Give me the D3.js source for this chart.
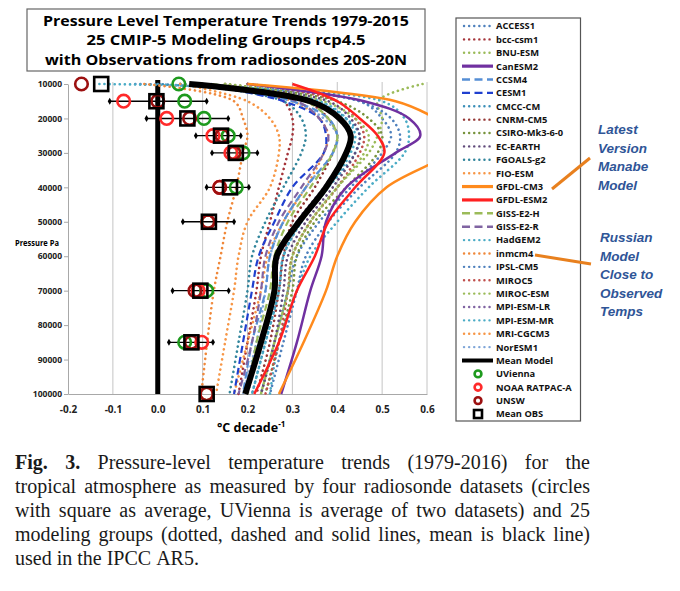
<!DOCTYPE html>
<html>
<head>
<meta charset="utf-8">
<script src="https://cdn.jsdelivr.net/npm/d3@7"></script>
<style>
    body { margin: 0; background: #fff; }
    svg { display: block; }
</style>
</head>
<body>
<script>
    // pressure levels (Pa) used by the model curves
    const levels = [10000, 15000, 20000, 25000, 30000, 40000, 50000, 60000, 70000, 85000, 100000];

    const modelNames = ["ACCESS1", "bcc-csm1", "BNU-ESM", "CanESM2", "CCSM4", "CESM1", "CMCC-CM", "CNRM-CM5",
        "CSIRO-Mk3-6-0", "EC-EARTH", "FGOALS-g2", "FIO-ESM", "GFDL-CM3", "GFDL-ESM2", "GISS-E2-H", "GISS-E2-R",
        "HadGEM2", "inmcm4", "IPSL-CM5", "MIROC5", "MIROC-ESM", "MPI-ESM-LR", "MPI-ESM-MR", "MRI-CGCM3", "NorESM1"];

    const modelColors = ["#4f81bd", "#a5343a", "#9bbb59", "#7030a0", "#558ed5", "#1f3fcf", "#3c8fb8", "#953735",
        "#77933c", "#604a7b", "#31859c", "#f79646", "#ff8a1c", "#ff2020", "#9bbb59", "#8064a2",
        "#4bacc6", "#f0883a", "#4f81bd", "#c0504d", "#9bbb59", "#8064a2", "#4bacc6", "#f79646", "#7fa6d8"];

    const modelStyles = ["dot", "dot", "dot", "solid", "dash", "dash", "dot", "dot",
        "dot", "dot", "dot", "dot", "solid", "solid", "dash", "dash",
        "dot", "dot", "dot", "dot", "dot", "dot", "dot", "dot", "dot"];

    // trend (°C/decade) per model at each level
    const modelTrends = [
        [-0.05, 0.45, 0.50, 0.52, 0.50, 0.43, 0.36, 0.31, 0.29, 0.26, 0.23],   // ACCESS1
        [0.15, 0.28, 0.30, 0.30, 0.29, 0.27, 0.25, 0.23, 0.22, 0.20, 0.18],    // bcc-csm1
        [0.59, 0.49, 0.50, 0.49, 0.47, 0.40, 0.34, 0.30, 0.29, 0.26, 0.23],    // BNU-ESM
        [0.20, 0.46, 0.56, 0.585, 0.53, 0.42, 0.375, 0.365, 0.34, 0.31, 0.275], // CanESM2
        [0.08, 0.30, 0.38, 0.40, 0.39, 0.33, 0.28, 0.25, 0.24, 0.21, 0.19],    // CCSM4
        [0.10, 0.28, 0.36, 0.375, 0.37, 0.30, 0.26, 0.225, 0.21, 0.19, 0.17],  // CESM1
        [0.00, 0.35, 0.42, 0.45, 0.44, 0.38, 0.32, 0.28, 0.27, 0.24, 0.21],    // CMCC-CM
        [0.10, 0.33, 0.38, 0.40, 0.39, 0.35, 0.30, 0.28, 0.27, 0.25, 0.22],    // CNRM-CM5
        [0.15, 0.40, 0.47, 0.50, 0.49, 0.42, 0.35, 0.31, 0.30, 0.27, 0.24],    // CSIRO-Mk3-6-0
        [0.10, 0.38, 0.43, 0.45, 0.44, 0.39, 0.33, 0.29, 0.28, 0.26, 0.23],    // EC-EARTH
        [0.05, 0.28, 0.32, 0.33, 0.32, 0.28, 0.24, 0.21, 0.20, 0.18, 0.16],    // FGOALS-g2
        [0.10, 0.30, 0.36, 0.38, 0.37, 0.33, 0.28, 0.245, 0.23, 0.20, 0.17],   // FIO-ESM
        [0.20, 0.53, 0.62, 0.68, 0.65, 0.51, 0.44, 0.40, 0.375, 0.325, 0.27],  // GFDL-CM3
        [0.30, 0.40, 0.45, 0.49, 0.505, 0.44, 0.38, 0.35, 0.31, 0.27, 0.215],  // GFDL-ESM2
        [0.12, 0.33, 0.38, 0.40, 0.39, 0.34, 0.29, 0.26, 0.25, 0.22, 0.20],    // GISS-E2-H
        [0.10, 0.31, 0.36, 0.38, 0.37, 0.32, 0.27, 0.24, 0.23, 0.21, 0.18],    // GISS-E2-R
        [-0.13, 0.50, 0.55, 0.56, 0.55, 0.47, 0.40, 0.34, 0.31, 0.27, 0.25],   // HadGEM2
        [-0.03, 0.17, 0.19, 0.20, 0.19, 0.175, 0.155, 0.14, 0.125, 0.11, 0.097], // inmcm4
        [0.20, 0.45, 0.52, 0.54, 0.53, 0.45, 0.38, 0.33, 0.31, 0.28, 0.25],    // IPSL-CM5
        [0.20, 0.40, 0.44, 0.46, 0.45, 0.40, 0.34, 0.30, 0.29, 0.27, 0.24],    // MIROC5
        [0.15, 0.37, 0.44, 0.47, 0.46, 0.40, 0.34, 0.30, 0.29, 0.26, 0.23],    // MIROC-ESM
        [0.05, 0.35, 0.41, 0.43, 0.42, 0.37, 0.31, 0.27, 0.26, 0.23, 0.20],    // MPI-ESM-LR
        [0.05, 0.36, 0.42, 0.44, 0.43, 0.38, 0.32, 0.28, 0.27, 0.24, 0.21],    // MPI-ESM-MR
        [0.05, 0.20, 0.25, 0.27, 0.27, 0.25, 0.20, 0.18, 0.17, 0.15, 0.13],    // MRI-CGCM3
        [0.12, 0.30, 0.37, 0.40, 0.39, 0.33, 0.28, 0.25, 0.24, 0.22, 0.19]     // NorESM1
    ];

    const meanModel = [0.07, 0.34, 0.405, 0.43, 0.42, 0.375, 0.315, 0.265, 0.26, 0.23, 0.195];

    // radiosonde observations
    const obsLevels = [10000, 15000, 20000, 25000, 30000, 40000, 50000, 70000, 85000, 100000];
    const uVienna = [0.047, 0.06, 0.103, 0.157, 0.19, 0.175, 0.112, 0.109, 0.06, 0.109];
    const noaaRatpac = [null, -0.076, 0.02, 0.123, 0.163, 0.138, 0.112, 0.09, 0.098, 0.109];
    const unsw = [-0.17, 0.0, 0.071, 0.143, 0.17, 0.138, 0.112, 0.083, 0.075, 0.109];
    const meanObs = [-0.126, -0.003, 0.066, 0.141, 0.174, 0.161, 0.114, 0.095, 0.075, 0.109];
    const errLow = [null, -0.107, -0.025, 0.085, 0.121, 0.109, 0.056, 0.033, 0.025, null];
    const errHigh = [null, 0.109, 0.157, 0.185, 0.222, 0.203, 0.170, 0.158, 0.123, null];

    const xTicks = [-0.2, -0.1, 0.0, 0.1, 0.2, 0.3, 0.4, 0.5, 0.6];
    const yTicks = [10000, 20000, 30000, 40000, 50000, 60000, 70000, 80000, 90000, 100000];

    const titleLines = ["Pressure Level Temperature Trends 1979-2015",
        "25 CMIP-5 Modeling Groups rcp4.5",
        "with Observations from radiosondes 20S-20N"];

    const noteManabe = ["Latest", "Version", "Manabe", "Model"];
    const noteRussian = ["Russian", "Model", "Close to", "Observed", "Temps"];

    const captionLines = [
        "Fig. 3. Pressure-level temperature trends (1979-2016) for the",
        "tropical atmosphere as measured by four radiosonde datasets (circles",
        "with square as average, UVienna is average of two datasets) and 25",
        "modeling groups (dotted, dashed and solid lines, mean is black line)",
        "used in the IPCC AR5."
    ];

    const obsColors = { uv: "#1e9a1e", noaa: "#ff2a2a", unsw: "#9c1010" };

    const svg = d3.select("body").append("svg")
        .attr("width", 680).attr("height", 591)
        .style("font-family", "'Open Sans', sans-serif");

    svg.append("rect").attr("width", 680).attr("height", 591).attr("fill", "#fff");

    // title box
    svg.append("rect").attr("x", 27).attr("y", 9).attr("width", 398).attr("height", 62)
        .attr("fill", "#fff").attr("stroke", "#666").attr("stroke-width", 1.2);
    const titleWidths = [366, 279, 362];
    svg.selectAll("text.title").data(titleLines).join("text")
        .attr("class", "title")
        .attr("x", 226).attr("y", (d, i) => 25.5 + i * 19.5)
        .attr("text-anchor", "middle")
        .attr("font-size", 15).attr("font-weight", 700)
        .attr("textLength", (d, i) => titleWidths[i]).attr("lengthAdjust", "spacingAndGlyphs")
        .text(d => d);

    const x = d3.scaleLinear().domain([-0.2, 0.6]).range([68, 427]);
    const y = d3.scaleLinear().domain([10000, 100000]).range([84, 394]);

    // gridlines
    svg.append("g").selectAll("line").data(xTicks.slice(1)).join("line")
        .attr("x1", d => x(d)).attr("x2", d => x(d))
        .attr("y1", y(10000) - 2).attr("y2", y(100000))
        .attr("stroke", "#c4c4c4").attr("stroke-width", 1);

    const yAxis = svg.append("g").attr("transform", `translate(${x(-0.2)},0)`)
        .call(d3.axisLeft(y).tickValues(yTicks).tickSize(4).tickSizeOuter(0).tickPadding(2)
            .tickFormat(d3.format("d")));
    yAxis.selectAll("path,line").attr("stroke", "#a8a8a8");
    yAxis.selectAll("text").attr("font-size", 8.5).attr("font-weight", 700)
        .attr("font-family", "'Open Sans', sans-serif").attr("fill", "#222");

    const xAxis = svg.append("g").attr("transform", `translate(0,${y(100000)})`)
        .call(d3.axisBottom(x).tickValues(xTicks).tickSize(0).tickSizeOuter(0).tickPadding(12)
            .tickFormat(d => d.toFixed(1)));
    xAxis.selectAll("path").attr("stroke", "#a8a8a8");
    xAxis.selectAll("text").attr("font-size", 10).attr("font-weight", 700)
        .attr("font-family", "'Open Sans', sans-serif").attr("fill", "#222");

    svg.append("text").attr("x", 15).attr("y", 246)
        .attr("font-size", 8).attr("font-weight", 700)
        .attr("textLength", 44).attr("lengthAdjust", "spacingAndGlyphs")
        .text("Pressure Pa");

    const xt = svg.append("text").attr("x", 217).attr("y", 432)
        .attr("font-size", 12.5).attr("font-weight", 700);
    xt.append("tspan").text("°C decade");
    xt.append("tspan").attr("font-size", 8).attr("dy", -5).text("-1");

    // clip for plot area
    svg.append("clipPath").attr("id", "plotClip")
        .append("rect").attr("x", x(-0.2)).attr("y", y(10000) - 6)
        .attr("width", x(0.6) - x(-0.2) + 1).attr("height", y(100000) - y(10000) + 10);

    const plot = svg.append("g").attr("clip-path", "url(#plotClip)");

    // zero reference line
    plot.append("line").attr("x1", x(0)).attr("x2", x(0))
        .attr("y1", y(10000) - 4).attr("y2", y(100000))
        .attr("stroke", "#000").attr("stroke-width", 5);

    const dashFor = s => s === "dot" ? "0.1,5" : s === "dash" ? "7,4" : null;
    const widthFor = s => s === "dot" ? 2.6 : s === "dash" ? 2.2 : 2.5;

    const line = d3.line()
        .x(d => x(d.v)).y(d => y(d.p))
        .curve(d3.curveCatmullRom.alpha(0.5));

    const models = modelNames.map((name, i) => ({
        name: name, color: modelColors[i], style: modelStyles[i],
        pts: levels.map((p, j) => ({ p: p, v: modelTrends[i][j] }))
    }));

    // dotted first, then dashed, then solid on top
    const order = { dot: 0, dash: 1, solid: 2 };
    plot.selectAll("path.model").data(models.slice().sort((a, b) => order[a.style] - order[b.style]))
        .join("path").attr("class", "model")
        .attr("d", d => line(d.pts))
        .attr("fill", "none")
        .attr("stroke", d => d.color)
        .attr("stroke-width", d => widthFor(d.style))
        .attr("stroke-dasharray", d => dashFor(d.style))
        .attr("stroke-linecap", d => d.style === "dot" ? "round" : "butt");

    plot.append("path")
        .attr("d", line(levels.map((p, j) => ({ p: p, v: meanModel[j] }))))
        .attr("fill", "none").attr("stroke", "#000").attr("stroke-width", 6)
        .attr("stroke-linejoin", "round");

    // observations
    const obs = obsLevels.map((p, i) => ({
        p: p, uv: uVienna[i], noaa: noaaRatpac[i], unsw: unsw[i],
        mean: meanObs[i], lo: errLow[i], hi: errHigh[i]
    }));

    const og = svg.append("g");
    const bars = obs.filter(d => d.lo !== null);
    og.selectAll("line.err").data(bars).join("line").attr("class", "err")
        .attr("x1", d => x(d.lo)).attr("x2", d => x(d.hi))
        .attr("y1", d => y(d.p)).attr("y2", d => y(d.p))
        .attr("stroke", "#000").attr("stroke-width", 1.4);
    const diamond = d3.symbol().type(d3.symbolDiamond).size(14);
    og.selectAll("path.endlo").data(bars).join("path").attr("class", "endlo")
        .attr("d", diamond).attr("transform", d => `translate(${x(d.lo)},${y(d.p)})`).attr("fill", "#000");
    og.selectAll("path.endhi").data(bars).join("path").attr("class", "endhi")
        .attr("d", diamond).attr("transform", d => `translate(${x(d.hi)},${y(d.p)})`).attr("fill", "#000");

    [["uv", obsColors.uv], ["noaa", obsColors.noaa], ["unsw", obsColors.unsw]].forEach(([key, col]) => {
        og.selectAll("circle." + key).data(obs.filter(d => d[key] !== null)).join("circle")
            .attr("class", key)
            .attr("cx", d => x(d[key])).attr("cy", d => y(d.p)).attr("r", 6.3)
            .attr("fill", "none").attr("stroke", col).attr("stroke-width", 2.6);
    });

    og.selectAll("rect.meanobs").data(obs).join("rect").attr("class", "meanobs")
        .attr("x", d => x(d.mean) - 7).attr("y", d => y(d.p) - 7)
        .attr("width", 14).attr("height", 14)
        .attr("fill", "none").attr("stroke", "#000").attr("stroke-width", 2.6);

    // legend
    const legend = svg.append("g");
    legend.append("rect").attr("x", 456).attr("y", 18).attr("width", 124.5).attr("height", 403)
        .attr("fill", "none").attr("stroke", "#555").attr("stroke-width", 1.2);

    const legendItems = models.map(m => ({ name: m.name, kind: "line", color: m.color, style: m.style }))
        .concat([{ name: "Mean Model", kind: "line", color: "#000", style: "mean" },
            { name: "UVienna", kind: "circle", color: obsColors.uv },
            { name: "NOAA RATPAC-A", kind: "circle", color: obsColors.noaa },
            { name: "UNSW", kind: "circle", color: obsColors.unsw },
            { name: "Mean OBS", kind: "square", color: "#000" }]);

    const li = legend.selectAll("g.item").data(legendItems).join("g").attr("class", "item")
        .attr("transform", (d, i) => `translate(0,${26 + i * 13.38})`);

    li.filter(d => d.kind === "line").append("line")
        .attr("x1", d => d.style === "dot" ? 464 : 462).attr("x2", 493)
        .attr("stroke", d => d.color)
        .attr("stroke-width", d => d.style === "mean" ? 4 : d.style === "solid" ? 3.2 : d.style === "dash" ? 2.4 : 2.4)
        .attr("stroke-dasharray", d => d.style === "dot" ? "0.1,5" : d.style === "dash" ? "8,4.5" : null)
        .attr("stroke-linecap", d => d.style === "dot" ? "round" : "butt");

    li.filter(d => d.kind === "circle").append("circle")
        .attr("cx", 478).attr("r", 3.4)
        .attr("fill", "none").attr("stroke", d => d.color).attr("stroke-width", 2.6);
    li.filter(d => d.kind === "square").append("rect")
        .attr("x", 474).attr("y", -4).attr("width", 8).attr("height", 8)
        .attr("fill", "none").attr("stroke", "#000").attr("stroke-width", 2.6);

    li.append("text").attr("x", 496).attr("y", 3.4)
        .attr("font-size", 9.3).attr("font-weight", 700).attr("fill", "#111")
        .text(d => d.name);

    // annotations
    const noteColor = "#2f5597";
    svg.selectAll("text.manabe").data(noteManabe).join("text").attr("class", "manabe")
        .attr("x", 598).attr("y", (d, i) => 134 + i * 18.7)
        .attr("font-family", "'Liberation Sans', Arial, sans-serif")
        .attr("font-size", 13.5).attr("font-weight", 700).attr("font-style", "italic")
        .attr("fill", noteColor).text(d => d);
    svg.selectAll("text.russian").data(noteRussian).join("text").attr("class", "russian")
        .attr("x", 600).attr("y", (d, i) => 242 + i * 18.6)
        .attr("font-family", "'Liberation Sans', Arial, sans-serif")
        .attr("font-size", 13.5).attr("font-weight", 700).attr("font-style", "italic")
        .attr("fill", noteColor).text(d => d);

    svg.append("line").attr("x1", 552).attr("y1", 189).attr("x2", 590).attr("y2", 158)
        .attr("stroke", "#e8801e").attr("stroke-width", 3);
    svg.append("line").attr("x1", 535).attr("y1", 255).attr("x2", 591).attr("y2", 264)
        .attr("stroke", "#e8801e").attr("stroke-width", 3);

    // caption, justified line by line
    const capLeft = 15, capRight = 590;
    captionLines.forEach((txt, li) => {
        const words = txt.split(" ");
        const by = 469 + li * 24;
        const nodes = words.map((w, wi) => {
            const t = svg.append("text").attr("y", by)
                .attr("font-family", "'Liberation Serif', 'Times New Roman', serif")
                .attr("font-size", 20).attr("fill", "#1a1a1a")
                .attr("font-weight", li === 0 && wi < 2 ? 700 : 400)
                .text(w);
            return t;
        });
        const widths = nodes.map(n => n.node().getComputedTextLength());
        const total = d3.sum(widths);
        const last = li === captionLines.length - 1;
        const gap = last ? 5 : (capRight - capLeft - total) / (words.length - 1);
        let cx = capLeft;
        nodes.forEach((n, i) => {
            n.attr("x", cx);
            cx += widths[i] + gap;
        });
    });
</script>
</body>
</html>
